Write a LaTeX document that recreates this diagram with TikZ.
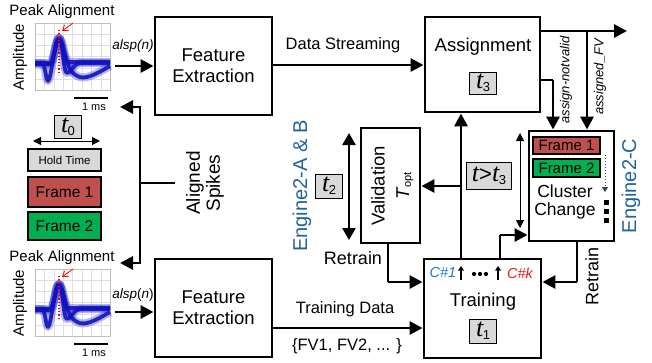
\documentclass[tikz,border=0pt]{standalone}
\usepackage{fontspec}
\setmainfont{Liberation Sans}
\newfontfamily\tserif{Liberation Serif}
\usetikzlibrary{arrows.meta}
\definecolor{engblue}{HTML}{1F639B}
\definecolor{cblue}{HTML}{1A7AD4}
\definecolor{cred}{HTML}{E3201B}
\definecolor{frred}{HTML}{C0504D}
\definecolor{frgreen}{HTML}{00B050}
\definecolor{tgray}{HTML}{D9D9D9}
\definecolor{wave}{HTML}{1414D2}
% italic serif t with an upright sans subscript
\newcommand{\tsub}[1]{{\tserif\itshape t}\kern-0.5pt\raisebox{-3pt}{\fontsize{13}{13}\selectfont #1}}
\newcommand{\fs}[1]{\fontsize{#1}{#1}\selectfont}
\newcommand{\fsb}[2]{\fontsize{#1}{#2}\selectfont}
\begin{document}
\begin{tikzpicture}[x=1pt,y=-1pt,
  arr/.style={line width=2.9pt,-{Triangle[length=13pt,width=13pt]}},
  conn/.style={line width=2.9pt},
  thinarr/.style={line width=1pt,{Triangle[length=8pt,width=8pt]}-{Triangle[length=8pt,width=8pt]}},
  blk/.style={draw,line width=2.9pt,align=center,inner sep=0pt,font=\fsb{18.5}{21}},
  tbox/.style={draw,line width=0.8pt,fill=tgray,inner sep=0pt,font=\fs{26}},
  frame/.style={draw,line width=2.9pt,inner sep=0pt},
  lbl/.style={font=\fs{16.5},inner sep=1pt},
  eng/.style={rotate=90,text=engblue,font=\fs{20}},
  halo/.style={wave,line width=8pt,opacity=0.3,line join=round},
  core/.style={wave!90!black,line width=3.8pt,opacity=0.9,line join=round}]
\useasboundingbox (0,0) rectangle (652,362);

% ---------- spike plots (top and bottom) ----------
\foreach \dy/\nm in {0/top,246/bot}{
\begin{scope}[shift={(0,\dy)}]
  \foreach \k in {0,...,8}{\draw[gray!25,line width=0.3pt] (35+\k*9.4,23) -- (35+\k*9.4,90);}
  \foreach \k in {0,...,6}{\draw[gray!25,line width=0.3pt] (35,23+\k*11.2) -- (110,23+\k*11.2);}
  \draw[gray!50,line width=0.4pt] (35,23) rectangle (110,90);
  % waveform families
  \foreach \st in {halo,core}{
    \draw[\st] (35,63) -- (50,63) .. controls (54,63) and (55,38) .. (59,38)
      .. controls (63,38) and (63,73) .. (67,73) .. controls (71,73) and (74,63) .. (80,63) -- (110,63);
    \draw[\st] (35,63) -- (42,63) .. controls (45,63) and (46,81) .. (48,81)
      .. controls (51,81) and (55,38) .. (59,38) .. controls (62,38) and (64,62) .. (68,62) -- (110,62);
    \draw[\st] (35,64) -- (50,64) .. controls (54,64) and (56,38) .. (59,38)
      .. controls (63,38) and (66,66) .. (72,72) .. controls (78,78) and (82,78) .. (87,77)
      .. controls (95,75) and (103,70) .. (110,66);
  }
  \draw[red,line width=1.2pt,dotted] (59,30) -- (59,74);
  \draw[red,line width=0.8pt,-{Straight Barb[length=5pt,width=7pt]}] (73,23) -- (62,31);
  \node[font=\fs{15},inner sep=0pt] (pk\nm) at (62,12) {Peak Alignment};
  \node[rotate=90,font=\fs{15},inner sep=0pt] (amp\nm) at (20,57) {Amplitude};
  \draw[line width=2.9pt] (74,98) -- (108,98);
  \node[font=\fs{11},inner sep=0pt] (ms\nm) at (94,107) {1 ms};
\end{scope}}

% ---------- legend ----------
\node[tbox,minimum width=27pt,minimum height=23pt] (t0) at (68,127) {\tsub{0}};
\coordinate (hl) at (33,141); \coordinate (hr) at (100,141);
\draw[thinarr] (hl) -- (hr);
\node[frame,fill=tgray,minimum width=73pt,minimum height=22pt,font=\fs{11.5}] (hold) at (64.5,160) {Hold Time};
\node[frame,fill=frred,minimum width=73pt,minimum height=30pt,font=\fs{15.5}] (fr1) at (64.5,192) {Frame 1};
\node[frame,fill=frgreen,minimum width=73pt,minimum height=28pt,font=\fs{15.5}] (fr2) at (64.5,226) {Frame 2};

% ---------- main blocks ----------
\node[blk,minimum width=117pt,minimum height=98pt] (FE1) at (213.5,66) {Feature\\Extraction};
\node[blk,minimum width=117pt,minimum height=98pt] (FE2) at (213.5,308) {Feature\\Extraction};
\node[blk,minimum width=115pt,minimum height=95pt] (As) at (482.5,64.5) {};
\node[inner sep=0pt,font=\fs{18.5}] (asT) at (483,47) {Assignment};
\node[tbox,minimum width=27pt,minimum height=22pt] (t3) at (483,83) {\tsub{3}};
\node[blk,minimum width=117pt,minimum height=99pt] (Tr) at (482.5,308.5) {};
\node[inner sep=0pt,font=\fs{18.5}] (trT) at (483,302) {Training};
\node[tbox,minimum width=27pt,minimum height=24pt] (t1) at (483,331) {\tsub{1}};
\node[blk,minimum width=59pt,minimum height=115pt] (Va) at (390.5,185.5) {};
\node[rotate=90,inner sep=0pt,font=\fs{18.5}] (vaT) at (378,186) {Validation};
\node[rotate=90,inner sep=0pt,font=\fs{18.5}] (vaO) at (405,186) {\textit{T}\raisebox{-2pt}{\fs{11}opt}};
\node[blk,minimum width=85pt,minimum height=110pt] (EC) at (571.5,186) {};
\node[frame,fill=frred,minimum width=67pt,minimum height=17pt,font=\fs{15}] (ec1) at (566.5,145.5) {Frame 1};
\node[frame,fill=frgreen,minimum width=67pt,minimum height=18pt,font=\fs{15}] (ec2) at (566.5,168) {Frame 2};
\node[align=center,inner sep=0pt,font=\fsb{17.5}{18}] (cc) at (565,202) {Cluster\\Change};
\coordinate (dt) at (605,155); \coordinate (db) at (605,192);
\draw[black!75,line width=1pt,dotted,-{Triangle[length=5pt,width=6pt]}] (dt) -- (db);
\foreach \yy in {202,211,220}{\fill (603.5,\yy-2.5) rectangle (608.5,\yy+2.5);}

% ---------- plot outputs ----------
\coordinate (p1) at (115,66); \coordinate (p2) at (115,312);
\draw[arr] (p1) -- (p1 -| FE1.west);
\draw[arr] (p2) -- (p2 -| FE2.west);
\node[font=\fs{13.5}\itshape,inner sep=0pt] (al1) at (133,46) {alsp(n)};
\node[font=\fs{13.5},inner sep=0pt] (al2) at (133,295) {\textit{alsp}(\textit{n})};

% aligned spikes feedback
\coordinate (am) at (140,183); \coordinate (aj) at (175,183);
\coordinate (aT) at (120,107); \coordinate (aB) at (120,263);
\draw[conn] (aj) -- (am);
\draw[arr] (am) |- (aT);
\draw[arr] (am) |- (aB);
\node[rotate=90,align=center,font=\fsb{19}{20},inner sep=0pt] (asp) at (205,183) {Aligned\\Spikes};

% streaming and training data
\coordinate (ds) at (300,65); \coordinate (td) at (300,328);
\draw[arr] (FE1.east |- ds) -- (As.west |- ds);
\node[lbl] (dsl) at (343,45) {Data Streaming};
\draw[arr] (FE2.east |- td) -- (Tr.west |- td);
\node[lbl] (tdl) at (345,309) {Training Data};
\node[lbl] (fvl) at (347,346) {\{FV1, FV2, ... \}};

% assignment outputs
\coordinate (ao) at (627,31); \coordinate (ab) at (587,31); \coordinate (an) at (553,80);
\draw[arr] (As.east |- ao) -- (ao);
\draw[arr] (ab) -- (ab |- EC.north);
\draw[conn] (As.east |- an) -- (an);
\draw[arr] (an) -- (an |- EC.north);
\node[rotate=90,font=\fs{13}\itshape,inner sep=0pt] (anl) at (566,80) {assign-notvalid};
\node[rotate=90,font=\fs{13}\itshape,inner sep=0pt] (afl) at (600,77) {assigned\_FV};

% training outputs
\coordinate (c1) at (461,186); \coordinate (ck) at (500,235);
\draw[arr] (Tr.north -| c1) -- (As.south -| c1);
\draw[arr] (c1) -- (c1 -| Va.east);
\draw[conn] (Tr.north -| ck) -- (ck);
\draw[arr] (ck) -- (ck -| EC.west);
\node[tbox,minimum width=45pt,minimum height=27pt] (tgt) at (489,176) {{\tserif\itshape t}{\fs{22}>}\tsub{3}};
\node[font=\fs{14.5}\itshape,text=cblue,inner sep=0pt] (cn1) at (443,273) {C\#1};
\node[font=\fs{14.5}\itshape,text=cred,inner sep=0pt] (cnk) at (520,273) {C\#k};
\draw[line width=1.8pt,-{Triangle[length=4.5pt,width=5.5pt]}] (461,280) -- (461,266);
\draw[line width=1.8pt,-{Triangle[length=4.5pt,width=5.5pt]}] (498,280) -- (498,266);
\foreach \xx in {474,480,486}{\fill (\xx,274) circle (2.1pt);}

% retrain loops
\coordinate (rv) at (388,282); \coordinate (rc) at (577,282);
\draw[conn] (Va.south -| rv) -- (rv);
\draw[arr] (rv) -- (rv -| Tr.west);
\draw[conn] (EC.south -| rc) -- (rc);
\draw[arr] (rc) -- (rc -| Tr.east);
\node[font=\fs{18},inner sep=0pt] (rtl) at (353,258) {Retrain};
\node[rotate=90,font=\fs{18},inner sep=0pt] (rtr) at (592,276) {Retrain};

% timing spans
\coordinate (v2t) at (349,133); \coordinate (v2b) at (349,240);
\draw[line width=2.6pt,{Triangle[length=12pt,width=13pt]}-{Triangle[length=12pt,width=13pt]}] (v2t) -- (v2b);
\node[tbox,minimum width=27pt,minimum height=24pt] (t2) at (329,186) {\tsub{2}};
\coordinate (v3t) at (520,133); \coordinate (v3b) at (520,228);
\draw[thinarr] (v3t) -- (v3b);

% engine labels
\node[eng] (engab) at (302,186) {Engine2-A \& B};
\node[eng] (engc) at (631,186) {Engine2-C};
\end{tikzpicture}
\end{document}
